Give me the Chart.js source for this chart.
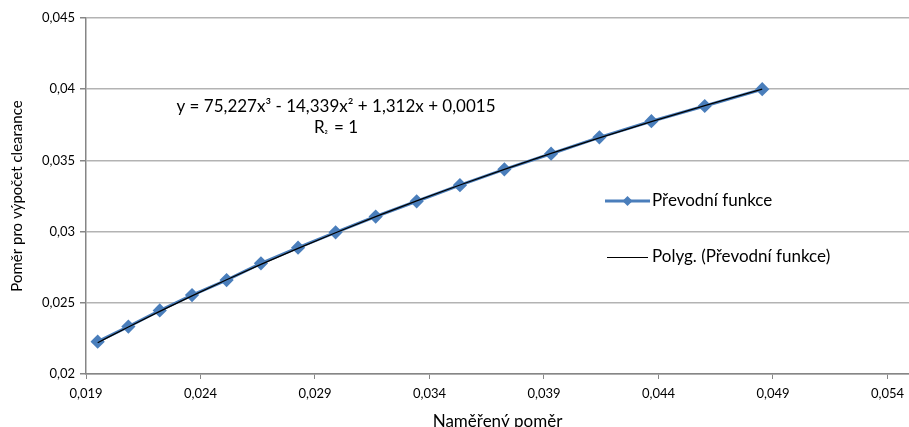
<!DOCTYPE html>
<html>
<head>
<meta charset="utf-8">
<script src="https://cdn.jsdelivr.net/npm/chart.js@4/dist/chart.umd.min.js"></script>
<style>
  html, body { margin: 0; padding: 0; background: #fff; }
  #wrap { width: 909px; height: 427px; position: relative; }
</style>
</head>
<body>
<div id="wrap"><canvas id="c" width="909" height="427"></canvas></div>
<script>
// Naměřený poměr (x) and poměr pro výpočet clearance (y)
const measured = [0.01951, 0.02085, 0.02222, 0.02363, 0.02514, 0.02664, 0.02826, 0.02990, 0.03165,
                  0.03344, 0.03533, 0.03727, 0.03931, 0.04142, 0.04369, 0.04602, 0.04853];
const clearanceRatio = [0.02227, 0.02333, 0.02446, 0.02554, 0.02660, 0.02777, 0.02887, 0.02995, 0.03106,
                        0.03213, 0.03326, 0.03437, 0.03547, 0.03662, 0.03775, 0.03882, 0.04000];

// Cubic trendline coefficients (highest power first)
const trendCoef = [75.227, -14.339, 1.312, 0.0015];
const trendLabel = 'y = 75,227x³ - 14,339x² + 1,312x + 0,0015';
const r2Label = '= 1';

const xTickValues = [0.019, 0.024, 0.029, 0.034, 0.039, 0.044, 0.049, 0.054];
const xTickLabels = ['0,019', '0,024', '0,029', '0,034', '0,039', '0,044', '0,049', '0,054'];
const yTickValues = [0.02, 0.025, 0.03, 0.035, 0.04, 0.045];
const yTickLabels = ['0,02', '0,025', '0,03', '0,035', '0,04', '0,045'];

const seriesName = 'Převodní funkce';
const trendName = 'Polyg. (Převodní funkce)';

const FONT = 'Lato, "Open Sans", sans-serif';
const BLUE = '#4a7ebb';

const evalPoly = x => trendCoef.reduce((acc, c) => acc * x + c, 0);

const dataPoints = measured.map((x, i) => ({ x, y: clearanceRatio[i] }));
const trendPoints = measured.map(x => ({ x, y: evalPoly(x) }));

// Equation text and the legend, drawn over the plot area
const overlay = {
  id: 'overlay',
  afterDraw(chart) {
    const ctx = chart.ctx;
    ctx.save();
    ctx.fillStyle = '#000';
    ctx.textBaseline = 'middle';
    ctx.font = '17px ' + FONT;
    ctx.textAlign = 'center';
    const cx = 336;
    ctx.fillText(trendLabel, cx, 107);
    // R² line
    ctx.textAlign = 'left';
    const rW = ctx.measureText('R').width;
    const restW = ctx.measureText(' ' + r2Label).width;
    const start = cx - (rW + 5 + restW) / 2;
    ctx.fillText('R', start, 128);
    ctx.font = '10px ' + FONT;
    ctx.fillText('²', start + rW, 135);
    ctx.font = '17px ' + FONT;
    ctx.fillText(' ' + r2Label, start + rW + 5, 128);

    // legend
    const lx0 = 605, lx1 = 650, ly1 = 201, ly2 = 257;
    ctx.strokeStyle = BLUE;
    ctx.lineWidth = 3;
    ctx.beginPath(); ctx.moveTo(lx0, ly1); ctx.lineTo(lx1, ly1); ctx.stroke();
    ctx.fillStyle = BLUE;
    const mx = (lx0 + lx1) / 2, r = 5;
    ctx.beginPath();
    ctx.moveTo(mx, ly1 - r); ctx.lineTo(mx + r, ly1); ctx.lineTo(mx, ly1 + r); ctx.lineTo(mx - r, ly1);
    ctx.closePath(); ctx.fill();
    ctx.strokeStyle = '#000';
    ctx.lineWidth = 1;
    ctx.beginPath(); ctx.moveTo(607, ly2 + 0.5); ctx.lineTo(648, ly2 + 0.5); ctx.stroke();
    ctx.fillStyle = '#000';
    ctx.font = '17px ' + FONT;
    ctx.textAlign = 'left';
    ctx.fillText(seriesName, 652, ly1);
    ctx.fillText(trendName, 652, ly2);
    ctx.restore();
  }
};

new Chart(document.getElementById('c'), {
  type: 'scatter',
  data: {
    datasets: [
      {
        label: trendName,
        data: trendPoints,
        showLine: true,
        borderColor: '#000',
        borderWidth: 1.3,
        pointRadius: 0,
        cubicInterpolationMode: 'monotone',
        order: 0
      },
      {
        label: seriesName,
        data: dataPoints,
        showLine: true,
        borderColor: BLUE,
        backgroundColor: BLUE,
        borderWidth: 3,
        pointStyle: 'rectRot',
        pointRadius: 5,
        pointHoverRadius: 5,
        tension: 0,
        order: 1
      }
    ]
  },
  options: {
    responsive: false,
    animation: false,
    events: [],
    layout: { autoPadding: false, padding: { top: 18, right: 0, bottom: 0, left: 0 } },
    plugins: { legend: { display: false }, tooltip: { enabled: false } },
    scales: {
      x: {
        type: 'linear',
        min: 0.019,
        max: 0.05494,
        afterBuildTicks(scale) { scale.ticks = xTickValues.map(v => ({ value: v })); },
        afterFit(scale) { scale.height = 53; scale.paddingRight = 0; },
        ticks: {
          autoSkip: false,
          maxRotation: 0,
          color: '#000',
          padding: 7,
          font: { family: FONT, size: 13 },
          callback: (v, i) => xTickLabels[i]
        },
        grid: { drawOnChartArea: false, drawTicks: true, tickLength: 5, color: '#868686', lineWidth: 1 },
        border: { color: '#868686', width: 1.5 },
        title: {
          display: true,
          text: 'Naměřený poměr',
          color: '#000',
          font: { family: FONT, size: 17, lineHeight: 1.2 },
          padding: { top: 0, bottom: -5 }
        }
      },
      y: {
        type: 'linear',
        min: 0.02,
        max: 0.045,
        afterBuildTicks(scale) { scale.ticks = yTickValues.map(v => ({ value: v })); },
        afterFit(scale) { scale.width = 86; },
        ticks: {
          color: '#000',
          padding: 5,
          font: { family: FONT, size: 13 },
          callback: (v, i) => yTickLabels[i]
        },
        grid: { color: '#b3b3b3', lineWidth: 1.5, drawTicks: true, tickLength: 6, tickColor: '#868686' },
        border: { color: '#868686', width: 1.5 },
        title: {
          display: true,
          text: 'Poměr pro výpočet clearance',
          color: '#000',
          font: { family: FONT, size: 15, lineHeight: 1.2 },
          padding: { top: 8, bottom: 0 }
        }
      }
    }
  },
  plugins: [overlay]
});
</script>
</body>
</html>
